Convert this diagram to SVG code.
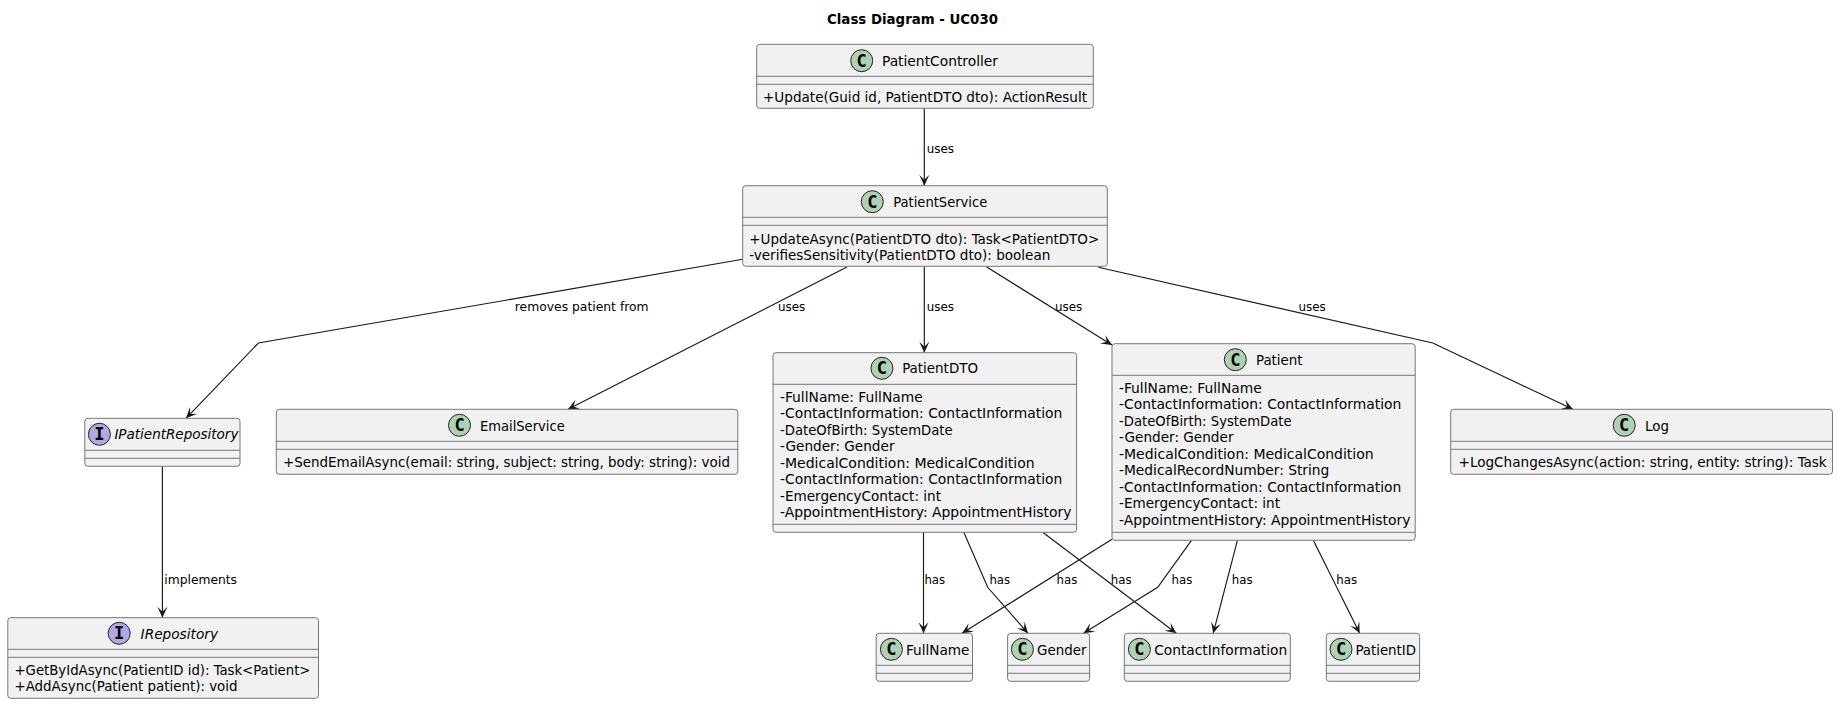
<svg xmlns="http://www.w3.org/2000/svg" width="1838" height="704" viewBox="0 0 1838 704">
<style>
text{font-family:"DejaVu Sans","Noto Sans",sans-serif;font-stretch:condensed;fill:#000}
.t{font-size:14.5px;font-weight:700}
.n{font-size:14.6px}
.i{font-style:italic}
.m{font-size:14.6px}
.l{font-size:13px}
.b{fill:#F1F1F1;stroke:#777;stroke-width:1}
.s{stroke:#777;stroke-width:1;fill:none}
.c{fill:#ADD1B2;stroke:#222;stroke-width:1}
.f{fill:#B4A7E5;stroke:#222;stroke-width:1}
.g{font-family:"DejaVu Sans Mono","Liberation Mono",monospace;font-stretch:normal;font-size:17px;font-weight:700;text-anchor:middle}
.e{fill:none;stroke:#181818;stroke-width:1.15;marker-end:url(#a)}
</style>
<defs><marker id="a" markerUnits="userSpaceOnUse" markerWidth="16" markerHeight="14" refX="12" refY="6" orient="auto" overflow="visible"><path d="M12 6 L1 1 L6 6 L1 11Z" fill="#181818"/></marker></defs>
<rect width="1838" height="704" fill="#fff"/>
<text class="t" x="827" y="24" textLength="171" lengthAdjust="spacingAndGlyphs">Class Diagram - UC030</text>
<g id="connectors">
<path class="e" d="M924.3 108.3V185.7"/>
<path class="e" d="M742.7 259.3L258.4 343L186 418.3"/>
<path class="e" d="M847 267L568 409.3"/>
<path class="e" d="M924.3 266.3V352.7"/>
<path class="e" d="M986.7 267L1112 345"/>
<path class="e" d="M1098.3 267.3L1432.8 343L1573 409.3"/>
<path class="e" d="M162.4 466.3V617.7"/>
<path class="e" d="M923.5 532.3V633.3"/>
<path class="e" d="M963.8 532.3L987.7 587.3L1028 633.3"/>
<path class="e" d="M1042.7 532.3L1176.3 633.3"/>
<path class="e" d="M1112 539.3L962 633.3"/>
<path class="e" d="M1191.5 540.3L1157.7 587.3L1083.5 633.3"/>
<path class="e" d="M1237.4 540.3L1213.2 633.3"/>
<path class="e" d="M1313.3 540.3L1359.7 633.3"/>
<text class="l" x="926.7" y="152.7" textLength="27.3" lengthAdjust="spacingAndGlyphs">uses</text>
<text class="l" x="514.8" y="311" textLength="133.8" lengthAdjust="spacingAndGlyphs">removes patient from</text>
<text class="l" x="778" y="311" textLength="27.3" lengthAdjust="spacingAndGlyphs">uses</text>
<text class="l" x="926.7" y="311" textLength="27.3" lengthAdjust="spacingAndGlyphs">uses</text>
<text class="l" x="1055" y="311" textLength="27.3" lengthAdjust="spacingAndGlyphs">uses</text>
<text class="l" x="1298.5" y="311" textLength="27.3" lengthAdjust="spacingAndGlyphs">uses</text>
<text class="l" x="164.3" y="584" textLength="72.7" lengthAdjust="spacingAndGlyphs">implements</text>
<text class="l" x="924.4" y="584" textLength="20.8" lengthAdjust="spacingAndGlyphs">has</text>
<text class="l" x="989.4" y="584" textLength="20.8" lengthAdjust="spacingAndGlyphs">has</text>
<text class="l" x="1056.6" y="584" textLength="20.8" lengthAdjust="spacingAndGlyphs">has</text>
<text class="l" x="1110.8" y="584" textLength="20.8" lengthAdjust="spacingAndGlyphs">has</text>
<text class="l" x="1171.5" y="584" textLength="20.8" lengthAdjust="spacingAndGlyphs">has</text>
<text class="l" x="1231.8" y="584" textLength="20.8" lengthAdjust="spacingAndGlyphs">has</text>
<text class="l" x="1336.3" y="584" textLength="20.8" lengthAdjust="spacingAndGlyphs">has</text>
</g>
<g id="PatientController">
<rect class="b" x="756.7" y="44.3" width="336.6" height="64" rx="3"/>
<path class="s" d="M756.7 76.3H1093.3M756.7 84.3H1093.3"/>
<circle class="c" cx="861.7" cy="60.7" r="11"/><text class="g" x="861.7" y="66.5">C</text>
<text class="n" x="882" y="66" textLength="116" lengthAdjust="spacingAndGlyphs">PatientController</text>
<text class="m" x="763" y="101.7" textLength="324" lengthAdjust="spacingAndGlyphs">+Update(Guid id, PatientDTO dto): ActionResult</text>
</g>
<g id="PatientService">
<rect class="b" x="742.7" y="185.7" width="364.6" height="80.6" rx="3"/>
<path class="s" d="M742.7 217.3H1107.3M742.7 225.3H1107.3"/>
<circle class="c" cx="872.3" cy="201.7" r="11"/><text class="g" x="872.3" y="207.5">C</text>
<text class="n" x="893.3" y="207.3" textLength="94" lengthAdjust="spacingAndGlyphs">PatientService</text>
<text class="m" x="749.3" y="244.3" textLength="350" lengthAdjust="spacingAndGlyphs">+UpdateAsync(PatientDTO dto): Task&lt;PatientDTO&gt;</text>
<text class="m" x="749.3" y="260.3" textLength="301" lengthAdjust="spacingAndGlyphs">-verifiesSensitivity(PatientDTO dto): boolean</text>
</g>
<g id="IPatientRepository">
<rect class="b" x="84.8" y="418.3" width="155.2" height="48" rx="3"/>
<path class="s" d="M84.8 450.3H240M84.8 458.3H240"/>
<circle class="f" cx="99.4" cy="434.3" r="11"/><text class="g" x="99.4" y="440">I</text>
<text class="n i" x="114.4" y="439" textLength="124" lengthAdjust="spacingAndGlyphs">IPatientRepository</text>
</g>
<g id="EmailService">
<rect class="b" x="276.3" y="409.3" width="461.5" height="65" rx="3"/>
<path class="s" d="M276.3 441.3H737.8M276.3 449.3H737.8"/>
<circle class="c" cx="459.5" cy="425.3" r="11"/><text class="g" x="459.5" y="431">C</text>
<text class="n" x="480" y="430.7" textLength="84.7" lengthAdjust="spacingAndGlyphs">EmailService</text>
<text class="m" x="283" y="466.7" textLength="447" lengthAdjust="spacingAndGlyphs">+SendEmailAsync(email: string, subject: string, body: string): void</text>
</g>
<g id="PatientDTO">
<rect class="b" x="773" y="352.7" width="303.6" height="179.6" rx="3"/>
<path class="s" d="M773 384.3H1076.6M773 524.3H1076.6"/>
<circle class="c" cx="881.9" cy="368.3" r="11"/><text class="g" x="881.9" y="374">C</text>
<text class="n" x="902.2" y="373.3" textLength="75.8" lengthAdjust="spacingAndGlyphs">PatientDTO</text>
<text class="m" x="780" y="402" textLength="142.7" lengthAdjust="spacingAndGlyphs">-FullName: FullName</text>
<text class="m" x="780" y="418.3" textLength="282.3" lengthAdjust="spacingAndGlyphs">-ContactInformation: ContactInformation</text>
<text class="m" x="780" y="435" textLength="172.6" lengthAdjust="spacingAndGlyphs">-DateOfBirth: SystemDate</text>
<text class="m" x="780" y="451.3" textLength="114.5" lengthAdjust="spacingAndGlyphs">-Gender: Gender</text>
<text class="m" x="780" y="468" textLength="254.6" lengthAdjust="spacingAndGlyphs">-MedicalCondition: MedicalCondition</text>
<text class="m" x="780" y="484.3" textLength="282.3" lengthAdjust="spacingAndGlyphs">-ContactInformation: ContactInformation</text>
<text class="m" x="780" y="501" textLength="161" lengthAdjust="spacingAndGlyphs">-EmergencyContact: int</text>
<text class="m" x="780" y="517.3" textLength="291.4" lengthAdjust="spacingAndGlyphs">-AppointmentHistory: AppointmentHistory</text>
</g>
<g id="Patient">
<rect class="b" x="1112" y="343.7" width="303.2" height="196.6" rx="3"/>
<path class="s" d="M1112 375.3H1415.2M1112 532.3H1415.2"/>
<circle class="c" cx="1235.3" cy="359.7" r="11"/><text class="g" x="1235.3" y="365.5">C</text>
<text class="n" x="1256" y="365" textLength="46.5" lengthAdjust="spacingAndGlyphs">Patient</text>
<text class="m" x="1119" y="393" textLength="142.7" lengthAdjust="spacingAndGlyphs">-FullName: FullName</text>
<text class="m" x="1119" y="409.3" textLength="282.3" lengthAdjust="spacingAndGlyphs">-ContactInformation: ContactInformation</text>
<text class="m" x="1119" y="426" textLength="172.6" lengthAdjust="spacingAndGlyphs">-DateOfBirth: SystemDate</text>
<text class="m" x="1119" y="442.3" textLength="114.5" lengthAdjust="spacingAndGlyphs">-Gender: Gender</text>
<text class="m" x="1119" y="459" textLength="254.6" lengthAdjust="spacingAndGlyphs">-MedicalCondition: MedicalCondition</text>
<text class="m" x="1119" y="475.3" textLength="210.3" lengthAdjust="spacingAndGlyphs">-MedicalRecordNumber: String</text>
<text class="m" x="1119" y="492" textLength="282.3" lengthAdjust="spacingAndGlyphs">-ContactInformation: ContactInformation</text>
<text class="m" x="1119" y="508.3" textLength="161" lengthAdjust="spacingAndGlyphs">-EmergencyContact: int</text>
<text class="m" x="1119" y="525" textLength="291.4" lengthAdjust="spacingAndGlyphs">-AppointmentHistory: AppointmentHistory</text>
</g>
<g id="Log">
<rect class="b" x="1450.7" y="409.3" width="381.8" height="65" rx="3"/>
<path class="s" d="M1450.7 441.3H1832.5M1450.7 449.3H1832.5"/>
<circle class="c" cx="1624.2" cy="425.3" r="11"/><text class="g" x="1624.2" y="431">C</text>
<text class="n" x="1645" y="430.7" textLength="24" lengthAdjust="spacingAndGlyphs">Log</text>
<text class="m" x="1458.5" y="466.7" textLength="368.2" lengthAdjust="spacingAndGlyphs">+LogChangesAsync(action: string, entity: string): Task</text>
</g>
<g id="IRepository">
<rect class="b" x="7.8" y="617.7" width="310.7" height="80.6" rx="3"/>
<path class="s" d="M7.8 649.3H318.5M7.8 657.3H318.5"/>
<circle class="f" cx="119.2" cy="633.3" r="11"/><text class="g" x="119.2" y="639">I</text>
<text class="n i" x="140.6" y="639" textLength="77.4" lengthAdjust="spacingAndGlyphs">IRepository</text>
<text class="m" x="14.5" y="675" textLength="296" lengthAdjust="spacingAndGlyphs">+GetByIdAsync(PatientID id): Task&lt;Patient&gt;</text>
<text class="m" x="14.5" y="691" textLength="223" lengthAdjust="spacingAndGlyphs">+AddAsync(Patient patient): void</text>
</g>
<g id="FullName">
<rect class="b" x="876.2" y="633.3" width="96.3" height="48" rx="3"/>
<path class="s" d="M876.2 665.3H972.5M876.2 673.3H972.5"/>
<circle class="c" cx="891.4" cy="649.3" r="11"/><text class="g" x="891.4" y="655">C</text>
<text class="n" x="906" y="655" textLength="63.5" lengthAdjust="spacingAndGlyphs">FullName</text>
</g>
<g id="Gender">
<rect class="b" x="1007.6" y="633.3" width="82" height="48" rx="3"/>
<path class="s" d="M1007.6 665.3H1089.6M1007.6 673.3H1089.6"/>
<circle class="c" cx="1022.4" cy="649.3" r="11"/><text class="g" x="1022.4" y="655">C</text>
<text class="n" x="1037" y="655" textLength="49.5" lengthAdjust="spacingAndGlyphs">Gender</text>
</g>
<g id="ContactInformation">
<rect class="b" x="1124.3" y="633.3" width="166" height="48" rx="3"/>
<path class="s" d="M1124.3 665.3H1290.3M1124.3 673.3H1290.3"/>
<circle class="c" cx="1139.4" cy="649.3" r="11"/><text class="g" x="1139.4" y="655">C</text>
<text class="n" x="1154.2" y="655" textLength="133" lengthAdjust="spacingAndGlyphs">ContactInformation</text>
</g>
<g id="PatientID">
<rect class="b" x="1326.3" y="633.3" width="93.3" height="48" rx="3"/>
<path class="s" d="M1326.3 665.3H1419.6M1326.3 673.3H1419.6"/>
<circle class="c" cx="1341" cy="649.3" r="11"/><text class="g" x="1341" y="655">C</text>
<text class="n" x="1355.4" y="655" textLength="60.6" lengthAdjust="spacingAndGlyphs">PatientID</text>
</g>
</svg>
